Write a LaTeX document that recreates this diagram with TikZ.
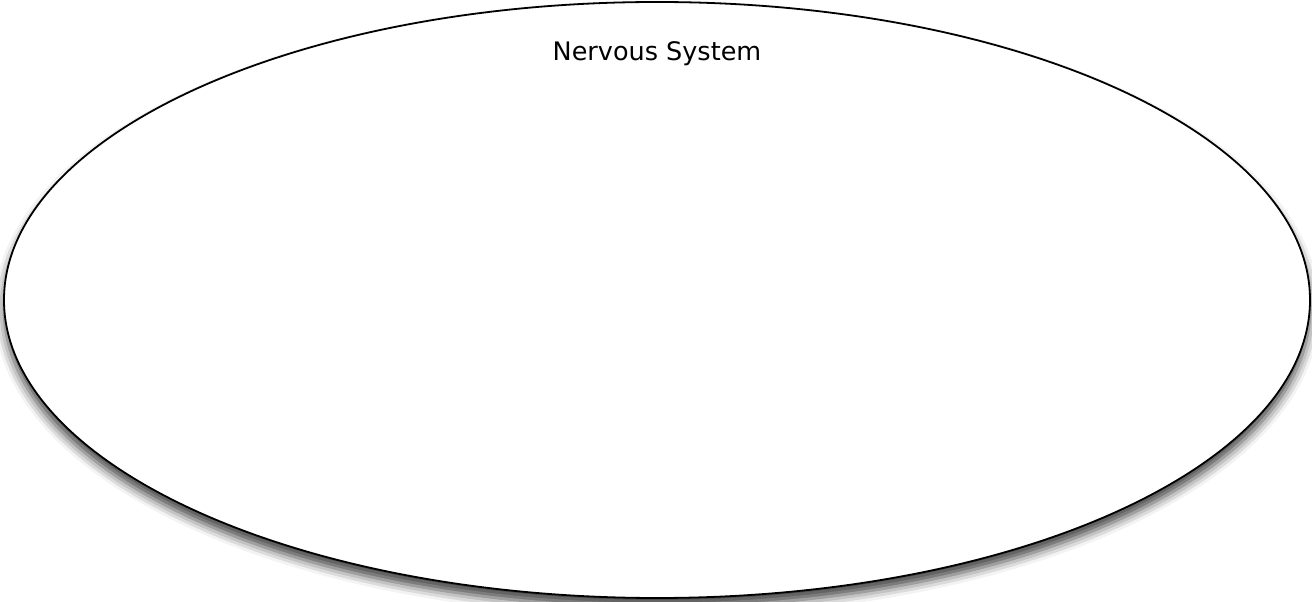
\documentclass[tikz,border=0pt]{standalone}
\usepackage{fontspec}
\setmainfont{DejaVu Sans}
\usetikzlibrary{shapes.geometric,shadows.blur}
\tikzset{
  sysellipse/.style={ellipse, draw=black, line width=1.8pt, fill=white,
    minimum width=1306pt, minimum height=596pt, inner sep=0pt,
    blur shadow={shadow xshift=0pt, shadow yshift=-9pt, shadow blur radius=10pt, shadow opacity=75}},
  title/.style={font=\fontsize{25.5}{30}\selectfont, text=black}
}
\begin{document}
\begin{tikzpicture}[x=1pt,y=1pt]
\useasboundingbox (0,0) rectangle (1312,602);
\node[sysellipse] (ns) at (657,302) {};
\node[title] (lbl) at (657,548) {Nervous System};
\end{tikzpicture}
\end{document}
